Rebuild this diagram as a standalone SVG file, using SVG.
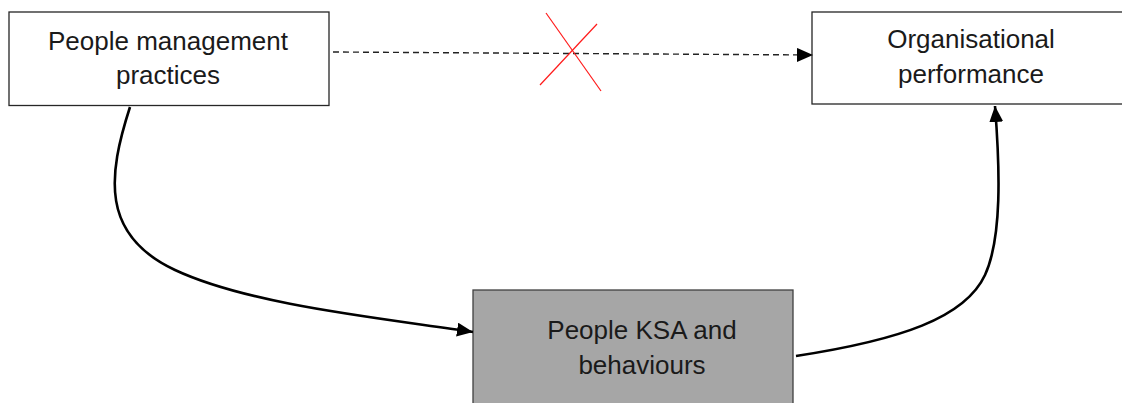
<svg xmlns="http://www.w3.org/2000/svg" width="1122" height="403" viewBox="0 0 1122 403">
  <style>
    .box { fill: #ffffff; stroke: #262626; stroke-width: 1.3; }
    .box.shaded { fill: #a6a6a6; stroke: #404040; }
    .label { font-family: "Liberation Sans", Arial, sans-serif; font-size: 26px; fill: #1a1a1a; text-anchor: middle; }
    .link { fill: none; stroke: #000000; stroke-width: 2.6; }
    .link.dashed { stroke-width: 1.4; stroke: #222222; stroke-dasharray: 6 4; }
    .cross { stroke: #ff1a1a; stroke-width: 1.2; }
  </style>
  <defs>
    <marker id="arrow" markerUnits="userSpaceOnUse" markerWidth="17" markerHeight="15" refX="16" refY="7" orient="auto">
      <path d="M0,0 L16,7 L0,14 z" fill="#000000"/>
    </marker>
  </defs>

  <rect width="1122" height="403" fill="#ffffff"/>

  <g id="node-practices">
    <rect class="box" x="9" y="12" width="320" height="93.5"/>
    <text class="label" x="168" y="50">People management</text>
    <text class="label" x="168" y="84">practices</text>
  </g>

  <g id="node-performance">
    <rect class="box" x="812" y="12" width="320" height="92"/>
    <text class="label" x="971" y="48">Organisational</text>
    <text class="label" x="971" y="83">performance</text>
  </g>

  <g id="node-ksa">
    <rect class="box shaded" x="473" y="290" width="320" height="130"/>
    <text class="label" x="642" y="339">People KSA and</text>
    <text class="label" x="642" y="374">behaviours</text>
  </g>

  <g id="connectors">
    <path class="link dashed" d="M333,52 L813,55" marker-end="url(#arrow)"/>
    <path class="link" d="M130,107 C108,175 100,235 175,270 C250,305 380,318 473,332" marker-end="url(#arrow)"/>
    <path class="link" d="M796,356 C900,340 965,318 985,275 C1002,238 1000,170 995,106" marker-end="url(#arrow)"/>
    <line class="cross" x1="546" y1="13" x2="601" y2="91"/>
    <line class="cross" x1="597" y1="24" x2="540" y2="85"/>
  </g>
</svg>
